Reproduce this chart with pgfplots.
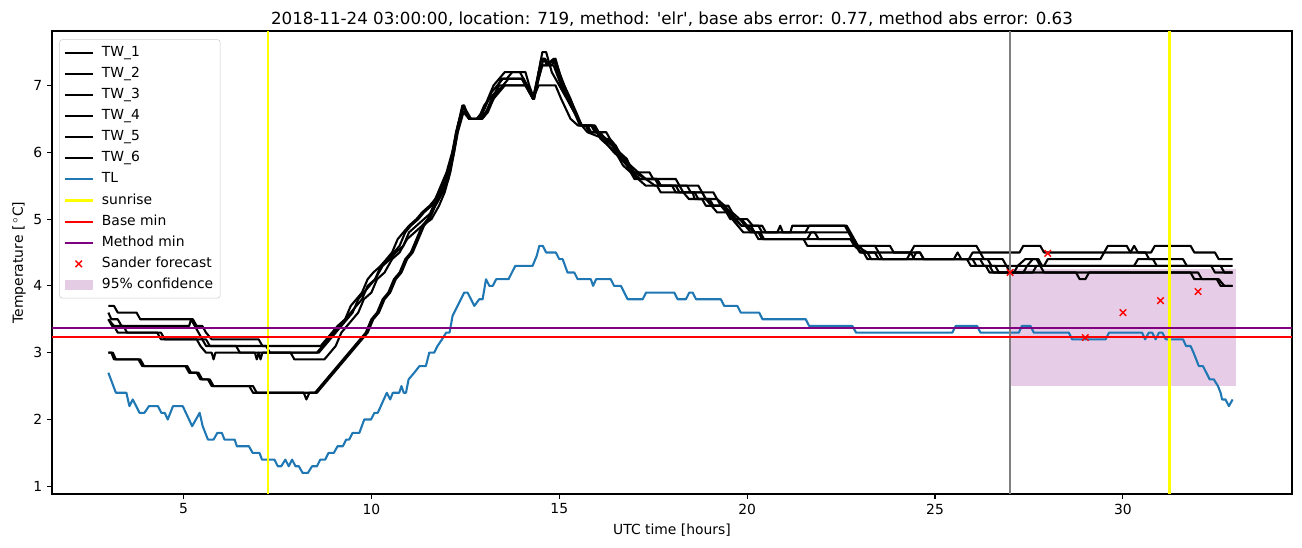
\documentclass[border=0pt]{standalone}
\usepackage{fontspec}
\setmainfont{DejaVu Sans}
\usepackage{pgfplots}
\pgfplotsset{compat=1.18}
\definecolor{tlblue}{HTML}{1F77B4}
\definecolor{mplpurple}{HTML}{800080}
\definecolor{mplgray}{HTML}{808080}
\definecolor{mplyellow}{HTML}{FFFF00}
\definecolor{mplred}{HTML}{FF0000}
\pgfplotsset{
  mpl line legend/.style={legend image code/.code={\draw[##1, sharp corners] (0pt,0pt) -- (20pt,0pt);}},
  mpl mark legend/.style={legend image code/.code={\draw[##1] plot coordinates {(10pt,0pt)};}},
  mpl patch legend/.style={legend image code/.code={\path[draw=none, fill=mplpurple, fill opacity=0.2, sharp corners] (0pt,-3.3pt) rectangle (20pt,3.3pt);}},
}
\begin{document}
\begin{tikzpicture}
\path[use as bounding box] (0,0) rectangle (937.44pt,393.84pt);
\begin{axis}[
  at={(37.44pt,38.16pt)}, anchor=south west,
  scale only axis, width=892.8pt, height=333.36pt,
  xmin=1.5, xmax=34.5, ymin=0.885, ymax=7.815,
  xtick={5,10,15,20,25,30}, ytick={1,2,3,4,5,6,7},
  tick pos=left, tick align=outside, major tick length=3.5pt,
  tick style={black, line width=0.8pt},
  axis line style={line width=0.8pt},
  ticklabel style={font=\fontsize{10}{12}\selectfont},
  /pgf/number format/assume math mode=true,
  title={2018-11-24 03:00:00, location: 719, method: \textquotesingle elr\textquotesingle, base abs error: 0.77, method abs error: 0.63},
  every axis title/.style={at={(axis description cs:0.5,1)}, anchor=base, yshift=4.4pt, font=\fontsize{12}{14}\selectfont},
  xlabel={UTC time [hours]},
  ylabel={Temperature [\,$^\circ$C]},
  every axis x label/.style={at={(axis description cs:0.5,-0.0864)}, anchor=base, font=\fontsize{10}{12}\selectfont},
  every axis y label/.style={at={(axis description cs:-0.0235,0.5)}, rotate=90, anchor=base, font=\fontsize{10}{12}\selectfont},
  legend cell align=left,
  legend style={at={(axis description cs:0.0059,0.982)}, anchor=north west, draw=black!20, rounded corners=2pt, fill=white,
    font=\fontsize{10}{12}\selectfont, inner xsep=3pt, inner ysep=2.5pt, row sep=1.3pt,
    nodes={inner sep=2pt, text height=7.5pt, text depth=2.4pt},
    /tikz/every odd column/.append style={column sep=4pt}},
  mpl line legend,
  every axis plot/.append style={line width=1.5pt, line join=round},
]
% confidence band (drawn first, legend entry added at end)
\addplot[draw=none, fill=mplpurple, fill opacity=0.2, forget plot] coordinates {(27,2.5) (33,2.5) (33,4.26) (27,4.26)} -- cycle;

% TW_1
\addplot[black] coordinates {
(3.0,3.7)(3.15,3.7)(3.25,3.6)(3.75,3.6)(3.85,3.5)(5.25,3.5)(5.35,3.4)(5.5,3.4)(5.6,3.3)(5.75,3.2)(7.0,3.2)(7.1,3.1)(8.65,3.1)
(8.8,3.2)(8.95,3.3)(9.1,3.4)(9.3,3.5)(9.45,3.6)(9.6,3.7)(9.75,3.8)(9.9,4.0)(10.1,4.1)(10.25,4.3)(10.45,4.4)(10.6,4.5)(10.75,4.6)
(10.9,4.8)(11.05,4.9)(11.25,5.0)(11.4,5.1)(11.6,5.2)(11.8,5.4)(11.95,5.6)(12.05,5.7)(12.2,6.1)(12.35,6.5)(12.45,6.7)(12.6,6.5)
(12.85,6.5)(13.0,6.7)(13.15,6.8)(13.3,6.9)(13.45,7.1)(13.6,7.1)(13.75,7.2)(14.1,7.2)(14.2,7.0)(14.33,6.8)(14.45,7.2)(14.55,7.5)
(14.65,7.5)(14.8,7.2)(15.0,7.0)(15.2,6.8)(15.4,6.6)(15.55,6.4)(15.75,6.4)(15.85,6.3)(16.1,6.3)(16.2,6.2)(16.4,6.1)(16.55,6.0)
(16.7,5.9)(16.85,5.8)(17.0,5.7)(17.4,5.7)(17.5,5.6)(18.1,5.6)(18.2,5.5)(18.7,5.5)(18.8,5.4)(19.1,5.4)(19.2,5.3)(19.4,5.2)
(19.55,5.1)(19.7,5.0)(19.85,4.9)(20.3,4.9)(20.4,4.8)(20.8,4.8)(20.88,4.9)(20.95,4.8)(21.15,4.8)(21.2,4.9)(22.6,4.9)(22.7,4.8)
(22.8,4.7)(22.9,4.6)(23.8,4.6)(23.9,4.5)(24.35,4.5)(24.45,4.6)(26.1,4.6)(26.2,4.5)(27.25,4.5)(27.35,4.6)(27.8,4.6)(27.9,4.5)
(29.5,4.5)(29.6,4.6)(30.1,4.6)(30.2,4.5)(30.3,4.6)(30.4,4.5)(30.75,4.5)(30.85,4.6)(31.8,4.6)(31.9,4.5)(32.45,4.5)(32.55,4.4)(32.92,4.4)
};
\addlegendentry{TW\_1}
% TW_2
\addplot[black] coordinates {
(3.0,3.6)(3.08,3.5)(3.25,3.5)(3.35,3.4)(5.15,3.4)(5.2,3.5)(5.3,3.4)(5.4,3.3)(5.5,3.2)(5.6,3.1)(7.2,3.1)(7.3,3.0)(8.55,3.0)
(8.7,3.1)(8.85,3.2)(9.0,3.3)(9.15,3.4)(9.3,3.5)(9.45,3.7)(9.6,3.8)(9.75,3.9)(9.9,4.1)(10.05,4.2)(10.25,4.3)(10.4,4.4)(10.55,4.5)
(10.7,4.7)(10.85,4.8)(11.0,4.9)(11.2,5.0)(11.35,5.1)(11.55,5.2)(11.7,5.3)(11.85,5.5)(12.0,5.7)(12.15,6.0)(12.3,6.4)(12.42,6.7)
(12.55,6.6)(12.65,6.5)(12.9,6.5)(13.05,6.7)(13.2,6.9)(13.35,7.0)(13.5,7.1)(14.05,7.1)(14.15,7.0)(14.3,6.8)(14.42,7.1)(14.52,7.4)
(14.62,7.4)(14.75,7.3)(14.85,7.3)(15.05,7.0)(15.3,6.7)(15.5,6.5)(15.6,6.4)(15.95,6.4)(16.05,6.3)(16.25,6.2)(16.5,6.1)(16.6,6.0)
(16.8,5.9)(16.95,5.7)(17.15,5.6)(17.55,5.6)(17.65,5.5)(18.1,5.5)(18.2,5.4)(18.8,5.4)(18.9,5.3)(19.1,5.2)(19.5,5.2)(19.6,5.1)
(19.8,5.0)(19.95,4.9)(20.1,4.8)(20.3,4.8)(20.4,4.7)(21.6,4.7)(21.7,4.8)(22.7,4.8)(22.8,4.7)(22.9,4.6)(23.0,4.5)(23.2,4.5)
(23.3,4.4)(24.4,4.4)(24.5,4.5)(24.6,4.5)(24.7,4.4)(26.2,4.4)(26.3,4.3)(26.6,4.3)(26.7,4.2)(27.6,4.2)(27.7,4.3)(27.9,4.3)
(28.0,4.4)(29.4,4.4)(29.5,4.5)(30.6,4.5)(30.7,4.4)(31.6,4.4)(31.7,4.3)(32.6,4.3)(32.7,4.2)(32.92,4.2)
};
\addlegendentry{TW\_2}
% TW_3
\addplot[black] coordinates {
(3.0,3.5)(3.1,3.4)(3.4,3.4)(3.5,3.3)(4.3,3.3)(4.4,3.2)(5.35,3.2)(5.45,3.1)(5.6,3.0)(5.75,3.0)(5.8,2.9)(5.85,3.0)(6.9,3.0)
(6.95,2.9)(7.0,3.0)(7.05,2.9)(7.1,3.0)(8.6,3.0)(8.75,3.1)(8.9,3.2)(9.05,3.3)(9.2,3.4)(9.35,3.5)(9.5,3.6)(9.65,3.8)(9.8,3.9)
(9.95,4.0)(10.1,4.1)(10.3,4.3)(10.5,4.4)(10.65,4.5)(10.85,4.6)(11.0,4.8)(11.2,4.9)(11.4,5.0)(11.6,5.1)(11.8,5.3)(11.95,5.5)
(12.1,5.8)(12.25,6.3)(12.4,6.6)(12.5,6.6)(12.6,6.5)(12.95,6.5)(13.1,6.6)(13.25,6.8)(13.4,7.0)(14.15,7.0)(14.3,6.8)(14.45,7.2)
(14.55,7.3)(14.65,7.3)(14.85,7.4)(14.95,7.2)(15.15,6.9)(15.4,6.6)(15.6,6.4)(15.75,6.3)(16.2,6.2)(16.3,6.1)(16.45,6.0)(16.65,5.9)
(16.8,5.8)(17.0,5.6)(17.6,5.6)(17.7,5.5)(18.0,5.5)(18.1,5.4)(18.55,5.4)(18.6,5.3)(19.2,5.3)(19.3,5.2)(19.45,5.1)(19.55,5.0)
(20.0,5.0)(20.15,4.9)(20.4,4.9)(20.5,4.8)(21.55,4.8)(21.65,4.9)(22.65,4.9)(22.75,4.8)(22.85,4.7)(22.95,4.6)(23.4,4.6)(23.5,4.5)
(24.6,4.5)(24.7,4.4)(26.0,4.4)(26.1,4.3)(26.45,4.3)(26.55,4.2)(27.1,4.2)(27.2,4.3)(27.4,4.4)(27.7,4.4)(27.8,4.3)(27.9,4.2)
(28.75,4.2)(28.85,4.1)(29.0,4.1)(29.1,4.2)(31.8,4.2)(31.9,4.1)(32.5,4.1)(32.6,4.0)(32.92,4.0)
};
\addlegendentry{TW\_3}
% TW_4
\addplot[black] coordinates {
(3.0,3.5)(3.15,3.4)(3.25,3.3)(4.4,3.3)(4.5,3.2)(5.6,3.2)(5.7,3.1)(6.4,3.1)(6.5,3.0)(7.85,3.0)(7.95,2.9)(8.75,2.9)(8.9,3.0)
(9.05,3.1)(9.2,3.3)(9.35,3.4)(9.5,3.5)(9.65,3.6)(9.8,3.8)(10.0,3.9)(10.15,4.1)(10.35,4.2)(10.55,4.4)(10.75,4.5)(10.95,4.7)
(11.15,4.8)(11.35,4.9)(11.6,5.0)(11.8,5.2)(11.95,5.4)(12.1,5.7)(12.3,6.3)(12.45,6.6)(12.6,6.5)(12.9,6.5)(13.05,6.6)(13.25,6.8)
(13.4,6.9)(13.55,7.0)(14.1,7.0)(14.2,6.9)(14.3,6.8)(14.45,7.0)(14.9,7.0)(15.05,6.8)(15.3,6.5)(15.5,6.4)(15.85,6.4)(15.95,6.3)
(16.25,6.3)(16.35,6.2)(16.5,6.1)(16.65,5.9)(16.85,5.8)(17.0,5.7)(17.3,5.6)(17.55,5.5)(18.4,5.5)(18.5,5.4)(18.8,5.4)(18.9,5.3)
(19.05,5.2)(19.2,5.1)(19.55,5.1)(19.65,5.0)(19.85,5.0)(20.0,4.9)(20.2,4.8)(21.8,4.8)(21.9,4.7)(22.8,4.7)(22.9,4.6)(23.2,4.5)
(23.4,4.5)(23.5,4.4)(25.9,4.4)(26.0,4.5)(26.2,4.5)(26.3,4.4)(26.8,4.4)(26.9,4.3)(27.0,4.2)(27.35,4.2)(27.45,4.3)(27.6,4.4)
(27.75,4.4)(27.85,4.3)(32.35,4.3)(32.45,4.2)(32.92,4.2)
};
\addlegendentry{TW\_4}
% TW_5
\addplot[black] coordinates {
(3.0,3.0)(3.08,3.0)(3.15,2.9)(3.8,2.9)(3.9,2.8)(5.05,2.8)(5.15,2.7)(5.35,2.7)(5.45,2.6)(5.65,2.6)(5.75,2.5)(6.75,2.5)(6.85,2.4)
(8.5,2.4)(8.65,2.5)(8.8,2.6)(8.95,2.7)(9.1,2.8)(9.25,2.9)(9.4,3.0)(9.55,3.1)(9.7,3.2)(9.85,3.3)(10.0,3.5)(10.15,3.6)(10.3,3.8)
(10.45,3.9)(10.6,4.1)(10.75,4.2)(10.9,4.4)(11.05,4.5)(11.2,4.7)(11.35,4.9)(11.5,5.0)(11.65,5.2)(11.85,5.4)(12.0,5.6)(12.15,5.9)
(12.3,6.4)(12.45,6.7)(12.6,6.5)(12.8,6.5)(12.95,6.6)(13.1,6.8)(13.25,7.0)(13.4,7.1)(13.55,7.2)(13.95,7.2)(14.05,7.1)(14.2,6.9)
(14.33,6.8)(14.45,7.1)(14.55,7.3)(14.7,7.3)(14.88,7.4)(15.0,7.2)(15.2,6.9)(15.45,6.6)(15.6,6.4)(15.7,6.4)(15.8,6.3)(16.0,6.3)
(16.1,6.2)(16.3,6.1)(16.5,6.0)(16.7,5.8)(16.9,5.7)(17.1,5.6)(17.3,5.5)(17.6,5.5)(17.7,5.4)(18.6,5.4)(18.7,5.3)(19.0,5.3)
(19.1,5.2)(19.35,5.2)(19.45,5.1)(19.6,5.0)(19.75,4.9)(19.9,4.8)(20.35,4.8)(20.45,4.7)(21.5,4.7)(21.6,4.6)(23.0,4.6)(23.1,4.5)
(23.2,4.4)(25.85,4.4)(25.95,4.3)(26.35,4.3)(26.45,4.2)(32.0,4.2)(32.1,4.1)(32.55,4.1)(32.7,4.0)(32.92,4.0)
};
\addlegendentry{TW\_5}
% TW_6
\addplot[black] coordinates {
(3.0,3.0)(3.12,3.0)(3.2,2.9)(3.85,2.9)(3.95,2.8)(5.1,2.8)(5.2,2.7)(5.4,2.7)(5.5,2.6)(5.7,2.6)(5.8,2.5)(6.85,2.5)(6.95,2.4)
(8.2,2.4)(8.27,2.3)(8.35,2.4)(8.55,2.4)(8.7,2.5)(8.85,2.6)(9.0,2.7)(9.15,2.8)(9.3,2.9)(9.45,3.0)(9.6,3.1)(9.75,3.2)(9.9,3.3)
(10.05,3.5)(10.2,3.6)(10.35,3.8)(10.5,3.9)(10.65,4.1)(10.8,4.2)(10.95,4.4)(11.1,4.5)(11.25,4.7)(11.4,4.9)(11.55,5.0)(11.7,5.2)
(11.9,5.4)(12.05,5.6)(12.2,6.0)(12.35,6.5)(12.47,6.7)(12.6,6.5)(12.9,6.5)(13.05,6.6)(13.2,6.8)(13.35,6.9)(13.5,7.0)(13.65,7.1)
(14.0,7.1)(14.1,7.0)(14.3,6.8)(14.45,7.1)(14.58,7.4)(14.68,7.3)(14.8,7.3)(14.9,7.4)(15.05,7.1)(15.3,6.8)(15.5,6.5)(15.6,6.4)
(15.9,6.4)(16.0,6.3)(16.15,6.2)(16.3,6.2)(16.45,6.1)(16.6,6.0)(16.75,5.9)(16.9,5.8)(17.1,5.7)(17.3,5.6)(17.6,5.6)(17.7,5.5)
(18.2,5.5)(18.3,5.4)(18.45,5.3)(18.8,5.3)(18.9,5.2)(19.4,5.2)(19.5,5.1)(19.65,5.0)(19.85,4.9)(20.1,4.9)(20.2,4.8)(20.3,4.7)
(22.75,4.7)(22.85,4.6)(23.05,4.5)(23.5,4.5)(23.6,4.4)(24.25,4.4)(24.35,4.5)(24.45,4.4)(25.5,4.4)(25.6,4.5)(25.7,4.4)(26.4,4.4)
(26.5,4.3)(30.3,4.3)(30.4,4.4)(30.8,4.4)(30.9,4.3)(32.92,4.3)
};
\addlegendentry{TW\_6}
% TL
\addplot[tlblue] coordinates {
(3.0,2.7)(3.2,2.4)(3.48,2.4)(3.56,2.2)(3.65,2.3)(3.83,2.1)(3.96,2.1)(4.08,2.2)(4.32,2.2)(4.41,2.1)(4.5,2.1)(4.58,2.0)(4.72,2.2)
(4.98,2.2)(5.23,1.9)(5.43,2.1)(5.51,1.9)(5.65,1.7)(5.8,1.7)(5.9,1.8)(6.02,1.8)(6.09,1.7)(6.36,1.7)(6.42,1.6)(6.74,1.6)(6.84,1.5)
(7.02,1.5)(7.09,1.4)(7.42,1.4)(7.51,1.3)(7.6,1.3)(7.71,1.4)(7.8,1.3)(7.89,1.4)(7.98,1.3)(8.07,1.3)(8.17,1.2)(8.31,1.2)(8.42,1.3)
(8.55,1.3)(8.64,1.4)(8.77,1.4)(8.86,1.5)(9.0,1.5)(9.1,1.6)(9.24,1.6)(9.33,1.7)(9.41,1.7)(9.5,1.8)(9.68,1.8)(9.81,2.0)(9.99,2.0)
(10.08,2.1)(10.17,2.1)(10.25,2.2)(10.33,2.3)(10.41,2.4)(10.5,2.3)(10.57,2.4)(10.74,2.4)(10.8,2.5)(10.86,2.4)(10.92,2.4)(10.99,2.6)
(11.14,2.7)(11.28,2.8)(11.45,2.8)(11.54,3.0)(11.67,3.0)(11.76,3.1)(11.88,3.2)(11.99,3.3)(12.08,3.3)(12.16,3.55)(12.47,3.9)
(12.56,3.9)(12.74,3.7)(12.87,3.8)(12.96,3.8)(13.05,4.1)(13.14,4.0)(13.23,4.0)(13.32,4.1)(13.65,4.1)(13.83,4.3)(14.29,4.3)
(14.4,4.45)(14.47,4.6)(14.56,4.6)(14.65,4.5)(14.91,4.5)(15.0,4.4)(15.09,4.4)(15.22,4.2)(15.4,4.2)(15.49,4.1)(15.84,4.1)(15.9,4.0)
(15.98,4.1)(16.37,4.1)(16.46,4.0)(16.64,4.0)(16.82,3.8)(17.22,3.8)(17.31,3.9)(18.06,3.9)(18.15,3.8)(18.37,3.8)(18.46,3.9)(18.55,3.9)
(18.64,3.8)(19.3,3.8)(19.39,3.7)(19.74,3.7)(19.83,3.6)(20.32,3.6)(20.41,3.5)(21.56,3.5)(21.65,3.4)(22.8,3.4)(22.9,3.3)(25.46,3.3)
(25.55,3.4)(26.12,3.4)(26.21,3.3)(27.23,3.3)(27.31,3.4)(27.54,3.4)(27.63,3.3)(28.56,3.3)(28.65,3.2)(29.54,3.2)(29.63,3.3)
(30.51,3.3)(30.59,3.2)(30.69,3.3)(30.78,3.3)(30.87,3.2)(30.96,3.3)(31.05,3.3)(31.14,3.2)(31.6,3.2)(31.68,3.1)(31.8,3.1)(31.88,3.0)
(31.95,2.9)(32.02,2.8)(32.13,2.8)(32.22,2.7)(32.31,2.6)(32.42,2.6)(32.53,2.5)(32.6,2.4)(32.64,2.3)(32.73,2.3)(32.82,2.2)(32.92,2.3)
};
\addlegendentry{TL}
% sunrise
\addplot[mplyellow] coordinates {(7.24,0.885) (7.24,7.815)};
\addlegendentry{sunrise}
\addplot[mplyellow, forget plot] coordinates {(31.24,0.885) (31.24,7.815)};
% now line
\addplot[mplgray, forget plot] coordinates {(27,0.885) (27,7.815)};
% base min
\addplot[mplred] coordinates {(1.5,3.235) (34.5,3.235)};
\addlegendentry{Base min}
% method min
\addplot[mplpurple] coordinates {(1.5,3.376) (34.5,3.376)};
\addlegendentry{Method min}
% Sander forecast
\addplot[only marks, mark=x, mark size=3.3pt, mplred, line width=1pt, mpl mark legend]
  coordinates {(27,4.20) (28,4.486) (29,3.226) (30,3.60) (31,3.78) (32,3.915)};
\addlegendentry{Sander forecast}
\addlegendimage{mpl patch legend, draw=none}
\addlegendentry{95\% confidence}
\end{axis}
\end{tikzpicture}
\end{document}
